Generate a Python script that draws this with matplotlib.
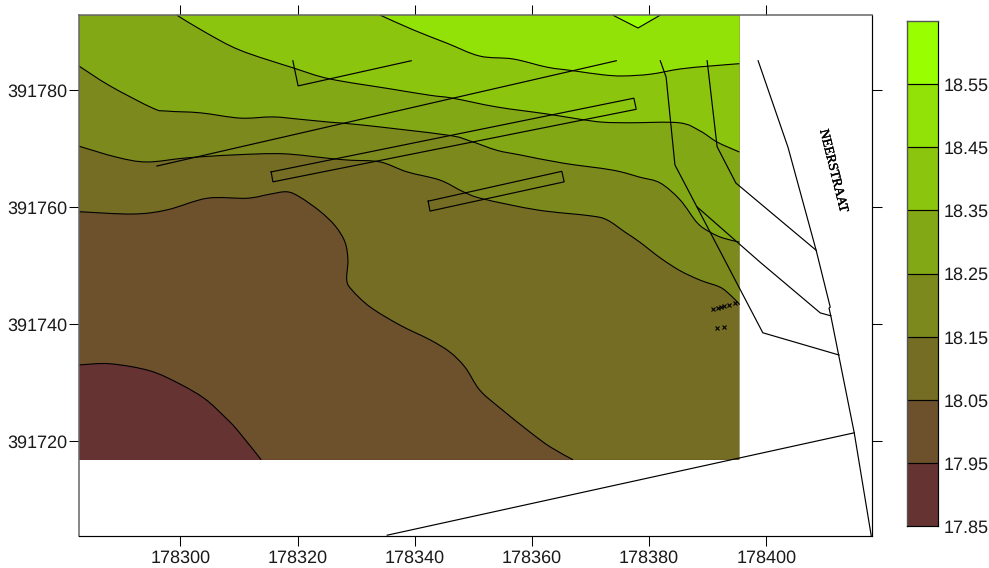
import numpy as np
import matplotlib
matplotlib.use("Agg")
import matplotlib.pyplot as plt
import matplotlib.patheffects as pe
from matplotlib.path import Path
from matplotlib.patches import PathPatch, Rectangle

plt.rcParams['font.family'] = ['Liberation Sans', 'DejaVu Sans']
plt.rcParams['text.hinting'] = 'no_hinting'
plt.rcParams['text.hinting_factor'] = 1

E0, N0 = 178000, 391700

# grid extent (offsets from E0 / N0)
grid_w, grid_e, grid_s, grid_n = 282.7, 395.4, 16.8, 92.8

levels = [17.85, 17.95, 18.05, 18.15, 18.25, 18.35, 18.45, 18.55, 18.65]
band_colors = ['#663333', '#6d502c', '#756d24', '#7c8a1d', '#83a816',
               '#8bc50e', '#92e207', '#99ff00']
level_labels = ['17.85', '17.95', '18.05', '18.15', '18.25', '18.35', '18.45', '18.55']

x_ticks = [178300, 178320, 178340, 178360, 178380, 178400]
y_ticks = [391720, 391740, 391760, 391780]

# contour lines
c1795_x = [282.7, 288.0, 294.8, 300.0, 304.2, 307.6, 309.7, 313.8]
c1795_y = [33.0, 33.2, 32.0, 29.7, 27.2, 24.1, 21.9, 16.8]

c1805_x = [282.7, 291.9, 297.7, 304.6, 311.4, 315.3, 318.2, 320.4, 323.8, 326.4, 328.1, 328.6,
           328.4, 329.3, 332.4, 337.5, 342.6, 346.0, 348.6, 351.1, 354.6, 359.7, 363.1, 367.0]
c1805_y = [59.2, 58.8, 59.5, 61.5, 61.5, 62.2, 62.6, 61.7, 59.3, 56.8, 54.0, 50.9,
           47.5, 45.8, 42.9, 39.8, 37.3, 35.2, 32.6, 28.7, 25.6, 21.5, 19.0, 16.8]

c1815_x = [282.7, 289.2, 294.3, 301.1, 309.0, 317.5, 325.5, 329.0, 334.1, 338.7, 344.3, 348.3, 351.6,
           360.9, 369.9, 372.8, 375.9, 378.4, 381.9, 385.3, 388.7, 392.1, 393.8, 395.2, 395.4]
c1815_y = [70.4, 68.5, 67.7, 68.4, 68.9, 69.1, 68.3, 68.0, 67.7, 66.0, 64.6, 62.6, 61.4,
           59.5, 58.5, 57.8, 55.7, 54.0, 51.3, 49.1, 47.5, 46.3, 45.0, 43.6, 43.3]

c1825_x = [282.7, 288.0, 295.3, 297.7, 303.4, 310.2, 315.8, 320.4, 325.5, 331.2, 345.5, 349.4,
           354.0, 358.0, 365.3, 373.8, 378.4, 381.9, 385.3, 388.2, 390.4, 392.6, 395.4]
c1825_y = [84.1, 80.7, 76.9, 76.4, 76.1, 75.2, 75.4, 75.0, 74.5, 74.0, 72.3, 71.3,
           69.7, 68.9, 67.5, 66.3, 65.1, 64.1, 61.2, 57.3, 55.7, 54.7, 54.0]

c1835_x = [299.4, 304.2, 310.2, 319.2, 325.5, 335.8, 342.6, 346.5, 354.0, 362.6, 368.2, 372.1,
           376.7, 385.1, 388.7, 391.6, 395.4]
c1835_y = [92.8, 89.9, 86.8, 83.8, 81.9, 80.2, 79.1, 78.6, 77.1, 75.9, 75.0, 74.5,
           74.4, 74.4, 73.0, 71.1, 69.4]

c1845_x = [334.1, 339.7, 345.5, 351.1, 356.8, 362.6, 367.0, 372.1, 375.5, 380.2, 385.3, 390.4, 395.4]
c1845_y = [92.8, 90.3, 88.0, 85.8, 85.3, 83.9, 83.3, 82.6, 82.4, 82.7, 83.6, 84.1, 84.5]

c1855_x = [373.8, 378.1, 381.9]
c1855_y = [92.8, 90.6, 92.8]

# site lines
line_a_x, line_a_y = [296.0, 374.4], [67.0, 85.0]
line_b_x, line_b_y = [319.2, 320.1, 339.4], [85.0, 80.7, 85.0]
rect1_x, rect1_y = [315.5, 377.4, 377.8, 315.8, 315.5], [66.0, 78.6, 76.7, 64.3, 66.0]
rect2_x, rect2_y = [342.3, 365.1, 365.5, 342.6, 342.3], [61.0, 66.1, 64.3, 59.3, 61.0]
line_c_x, line_c_y = [381.9, 382.9, 384.4, 399.4, 412.4], [85.0, 82.2, 67.2, 38.5, 34.7]
line_d_x, line_d_y = [389.9, 391.6, 394.8, 408.5], [85.0, 70.3, 64.1, 52.6]
line_e_x, line_e_y = [388.2, 398.9, 409.2, 411.0], [60.0, 50.6, 41.9, 41.4]
road_x = [398.6, 403.7, 408.5, 410.9, 410.7, 411.0, 415.0, 417.9]
road_y = [85.0, 70.2, 52.6, 42.9, 42.7, 41.4, 21.4, 3.8]
edge_x, edge_y = [335.3, 415.0], [3.9, 21.4]

# sample points
pts_x = [390.9, 391.8, 392.3, 392.8, 393.7, 394.7, 391.6, 392.8]
pts_y = [42.6, 42.8, 42.9, 43.0, 43.3, 43.6, 39.4, 39.5]

road_name = 'NEERSTRAAT'
road_name_pos = (411.4, 66.3)

W, H = 989, 568
fig = plt.figure(figsize=(W / 100, H / 100), dpi=100)
L, R, T, B = 79.0, 871.7, 15.3, 536.3
ax = fig.add_axes([L / W, 1 - B / H, (R - L) / W, (B - T) / H])
ax.set_xlim(E0 + 282.71, E0 + 417.98)
ax.set_ylim(N0 + 3.71, N0 + 92.77)


def curve(xs, ys, smooth=True):
    """Catmull-Rom contour through the given points as a Bezier path."""
    p = np.column_stack([E0 + np.asarray(xs, float), N0 + np.asarray(ys, float)])
    if not smooth or len(p) < 3:
        return p, [Path.MOVETO] + [Path.LINETO] * (len(p) - 1)
    q = np.vstack([p[0], p, p[-1]])
    verts, codes = [p[0]], [Path.MOVETO]
    for i in range(1, len(q) - 2):
        verts += [q[i] + (q[i + 1] - q[i - 1]) / 6, q[i + 1] - (q[i + 2] - q[i]) / 6, q[i + 1]]
        codes += [Path.CURVE4] * 3
    return np.array(verts), codes


def region(xs, ys, corners, smooth=True):
    v, c = curve(xs, ys, smooth)
    cr = np.array([(E0 + a, N0 + b) for a, b in corners], float).reshape(-1, 2)
    v = np.vstack([v, cr, v[0]])
    c = list(c) + [Path.LINETO] * len(cr) + [Path.CLOSEPOLY]
    return Path(v, c)


ax.add_patch(Rectangle((E0 + grid_w, N0 + grid_s), grid_e - grid_w, grid_n - grid_s,
                       facecolor=band_colors[0], edgecolor='none', zorder=1))

ne, nw, se = (grid_e, grid_n), (grid_w, grid_n), (grid_e, grid_s)
contours = [
    (c1795_x, c1795_y, [se, ne, nw], True),
    (c1805_x, c1805_y, [se, ne, nw], True),
    (c1815_x, c1815_y, [ne, nw], True),
    (c1825_x, c1825_y, [ne, nw], True),
    (c1835_x, c1835_y, [ne], True),
    (c1845_x, c1845_y, [ne], True),
    (c1855_x, c1855_y, [], False),
]
for i, (cx, cy, corners, sm) in enumerate(contours):
    ax.add_patch(PathPatch(region(cx, cy, corners, sm), facecolor=band_colors[i + 1],
                           edgecolor='none', zorder=2 + i * 0.01))
    v, c = curve(cx, cy, sm)
    ax.add_patch(PathPatch(Path(v, c), facecolor='none', edgecolor='black', lw=0.8, zorder=3))

for lx, ly in [(line_a_x, line_a_y), (line_b_x, line_b_y), (rect1_x, rect1_y), (rect2_x, rect2_y),
               (line_c_x, line_c_y), (line_d_x, line_d_y), (line_e_x, line_e_y), (road_x, road_y),
               (edge_x, edge_y)]:
    ax.plot(E0 + np.array(lx), N0 + np.array(ly), color='black', lw=0.85, zorder=4,
            solid_joinstyle='miter', clip_on=True)

ax.plot(E0 + np.array(pts_x), N0 + np.array(pts_y), ls='none', marker='x', ms=3.5, mew=0.8,
        color='black', zorder=5)

ax.text(E0 + road_name_pos[0], N0 + road_name_pos[1], road_name, family=['Liberation Serif'],
        fontsize=9.6, rotation=-76, ha='center', va='center', rotation_mode='anchor', zorder=5,
        path_effects=[pe.withStroke(linewidth=0.3, foreground='black')])

ax.set_xticks(x_ticks)
ax.set_yticks(y_ticks)
ax.set_xticklabels([str(v) for v in x_ticks])
ax.set_yticklabels([str(v) for v in y_ticks])
ax.tick_params(axis='both', which='major', length=7.2, width=0.75, labelsize=12.8, color='black',
               top=True, right=True, direction='out', labelcolor='#1a1a1a')
ax.tick_params(axis='x', pad=2.8)
ax.tick_params(axis='y', pad=0.8)
for s in ['bottom', 'right']:
    ax.spines[s].set_linewidth(0.85)
    ax.spines[s].set_color('black')
for s in ['top', 'left']:
    ax.spines[s].set_linewidth(1.1)
    ax.spines[s].set_color('#666666')
for s in ax.spines.values():
    s.set_zorder(6)

# colour scale
CL, CR, CT, CB = 906.7, 938.3, 21.0, 526.3
cax = fig.add_axes([CL / W, 1 - CB / H, (CR - CL) / W, (CB - CT) / H])
for lo, hi, col in zip(levels[:-1], levels[1:], band_colors):
    cax.axhspan(lo, hi, facecolor=col, edgecolor='none')
cax.hlines(levels[1:-1], 0, 1, color='black', lw=0.85)
cax.set_xlim(0, 1)
cax.set_ylim(levels[0], levels[-1])
cax.set_xticks([])
cax.set_yticks(levels[:-1])
cax.set_yticklabels(level_labels)
cax.yaxis.tick_right()
cax.tick_params(axis='y', length=0, pad=4, labelsize=12.8, labelcolor='#1a1a1a')
for s in ['bottom', 'right']:
    cax.spines[s].set_linewidth(0.85)
    cax.spines[s].set_color('black')
for s in ['top', 'left']:
    cax.spines[s].set_linewidth(1.0)
    cax.spines[s].set_color('#555555')

fig.savefig('out.png', dpi=100)
